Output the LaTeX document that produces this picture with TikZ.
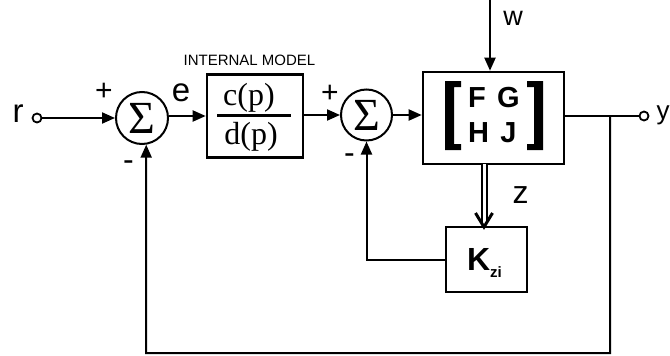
\documentclass[tikz,border=0pt]{standalone}
\usepackage{fontspec}
\setmainfont{Liberation Sans}
\newfontfamily\serifface{Liberation Serif}
\usetikzlibrary{arrows.meta,calc}
\begin{document}
\begin{tikzpicture}[x=1pt,y=-1pt,line width=2pt,
  arr/.style={-{Triangle[length=13pt,width=11pt]}},
  box/.style={draw,line width=2.6pt,inner sep=0pt},
  sumnode/.style={draw,circle,line width=2pt,minimum size=52pt,inner sep=0pt,font=\serifface\fontsize{46}{46}\selectfont},
  term/.style={draw,circle,line width=1.8pt,minimum size=9pt,inner sep=0pt,fill=white},
  lbl/.style={font=\fontsize{33}{33}\selectfont,inner sep=0pt,anchor=base},
  plus/.style={font=\fontsize{30}{30}\selectfont,inner sep=0pt,anchor=base},
  minus/.style={font=\fontsize{32}{32}\selectfont,inner sep=0pt,anchor=base},
  mat/.style={font=\bfseries\fontsize{29}{29}\selectfont,inner sep=0pt},
  frac/.style={font=\serifface\fontsize{32}{32}\selectfont,inner sep=0pt}]
\useasboundingbox (0,0) rectangle (670,356);

% nodes
\node[term] (rin) at (37,118) {};
\node[lbl] (rlab) at (18,122) {r};
\node[sumnode] (s1) at (142,118) {Σ};
\node[box,minimum width=96pt,minimum height=83pt] (cb) at (255,116) {};
\node[frac] (cnum) at (249,97.5) {c(p)};
\node[frac] (cden) at (251,136.5) {d(p)};
\draw[line width=2.2pt] (217,115.5) -- (291,115.5);
\node[font=\fontsize{15}{15}\selectfont,inner sep=0pt] (iml) at (249.5,60) {INTERNAL MODEL};
\node[sumnode,minimum size=51pt] (s2) at (366.5,115) {Σ};
\node[box,minimum width=141pt,minimum height=92pt] (plant) at (493.5,118) {};
\node[box,minimum width=81pt,minimum height=65pt] (kb) at (486.5,259.5) {};
\node[font=\bfseries\fontsize{32}{32}\selectfont,inner sep=0pt,anchor=base west] (klab) at (466,270) {K\raisebox{-7pt}{\fontsize{15}{15}\selectfont zi}};
\node[term] (yout) at (644,116) {};
\node[lbl,font=\fontsize{26}{26}\selectfont] (ylab) at (663,119.5) {y};

% matrix
\fill (461,81) -- (445,81) -- (445,150) -- (461,150) -- (461,144) -- (454,144) -- (454,87) -- (461,87) -- cycle;
\fill (527,81) -- (543,81) -- (543,150) -- (527,150) -- (527,144) -- (534,144) -- (534,87) -- (527,87) -- cycle;
\node[mat] (mf) at (477,98) {F};
\node[mat] (mg) at (508.5,98) {G};
\node[mat] (mh) at (478.5,132.5) {H};
\node[mat] (mj) at (508.5,132.5) {J};

% signs / labels
\node[plus] (p1) at (104,100) {+};
\node[minus] (m1) at (128.5,170) {-};
\node[plus] (p2) at (330,102.5) {+};
\node[minus] (m2) at (349.5,163.5) {-};
\node[lbl] (elab) at (181,101) {e};
\node[lbl,font=\fontsize{27}{27}\selectfont] (wlab) at (513,25) {w};
\node[lbl,font=\fontsize{32}{32}\selectfont] (zlab) at (520.5,203) {z};

% coordinates
\coordinate (wtop) at (490,0);
\coordinate (zx) at (484,164);
\coordinate (zend) at (484,227);
\coordinate (junc) at (610,116);
\coordinate (bot) at (610,353);
\coordinate (fb1) at (146,353);

% connectors
\draw[arr] (rin) -- (s1);
\draw[arr] (s1.east |- cb) -- (cb);
\draw[arr] (cb.east |- s2) -- (s2);
\draw[arr] (s2) -- (s2 -| plant.west);
\draw[arr] (wtop) -- (wtop |- plant.north);
\draw (plant.east |- yout) -- (yout);
\draw[line width=2pt,double,double distance=3pt,shorten >=5pt] (zx) -- (zend);
\draw[line width=3pt,line join=miter,line cap=butt] ($(zend)+(-8.5,-14)$) -- (zend) -- ($(zend)+(8.5,-14)$);
\draw[arr] (kb.west) -| (s2.south);
\draw[arr] (junc) -- (bot) -- (fb1) -- (s1.-81);
\end{tikzpicture}
\end{document}
